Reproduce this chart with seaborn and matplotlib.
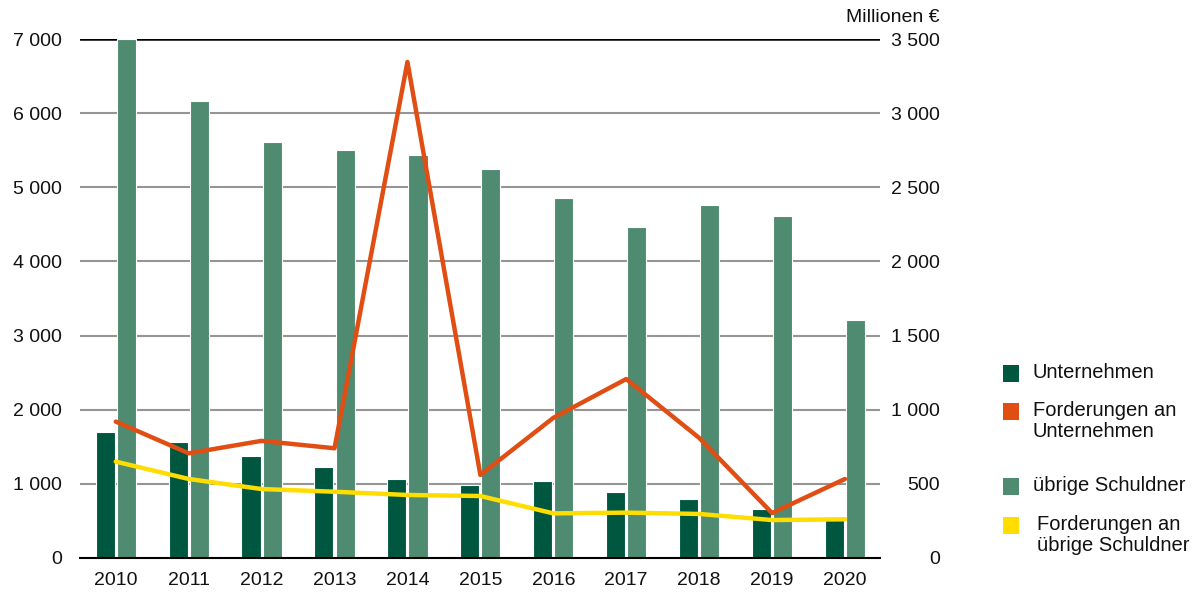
import numpy as np
import pandas as pd
import matplotlib.pyplot as plt
import seaborn as sns
from matplotlib.patches import Rectangle

# data
years = [2010, 2011, 2012, 2013, 2014, 2015, 2016, 2017, 2018, 2019, 2020]
unternehmen = [1700, 1570, 1375, 1230, 1060, 985, 1045, 895, 795, 662, 540]
uebrige = [7000, 6160, 5610, 5500, 5435, 5250, 4855, 4465, 4760, 4615, 3210]
ford_unternehmen = [920, 706, 790, 740, 3345, 560, 945, 1207, 810, 303, 533]
ford_uebrige = [650, 533, 465, 447, 425, 418, 301, 306, 297, 256, 261]

c_dark = "#00573f"
c_light = "#4f8b70"
c_orange = "#e04e14"
c_yellow = "#ffdd00"

bars = pd.DataFrame({"year": years * 2,
                     "value": unternehmen + uebrige,
                     "group": ["Unternehmen"] * len(years) + ["übrige Schuldner"] * len(years)})
lines = pd.DataFrame({"pos": np.arange(len(years)),
                      "ford_u": ford_unternehmen,
                      "ford_s": ford_uebrige})

# plot
sns.set_theme(style="white")
plt.rcParams["font.family"] = ["Liberation Sans", "DejaVu Sans"]

fig = plt.figure(figsize=(11.97, 5.95), dpi=100)
ax = fig.add_axes([80 / 1197, 1 - 558 / 595, 800 / 1197, 519 / 595])

sns.barplot(data=bars, x="year", y="value", hue="group", ax=ax,
            palette=[c_dark, c_light], saturation=1, width=0.58, gap=0.1,
            edgecolor="white", linewidth=0.8, legend=False, zorder=3)

ax.set_xlim(-0.49, 10.48)
ax.set_ylim(0, 7000)
ax.set_yticks(range(0, 7001, 1000))
ax.set_yticklabels([f"{v:,}".replace(",", " ") for v in range(0, 7001, 1000)])
for v in range(1000, 7000, 1000):
    ax.axhline(v, color="#959595", lw=1.5, zorder=1)
ax.axhline(7000, color="black", lw=1.8, zorder=1)
ax.set_xlabel("")
ax.set_ylabel("")
for s in ["left", "right", "top"]:
    ax.spines[s].set_visible(False)
ax.spines["bottom"].set_color("black")
ax.spines["bottom"].set_linewidth(1.5)
ax.spines["bottom"].set_zorder(5)
ax.tick_params(axis="y", length=0, pad=13, labelsize=14, colors="#111111")
ax.tick_params(axis="x", length=0, pad=10, labelsize=14, colors="#111111")

ax2 = ax.twinx()
sns.lineplot(data=lines, x="pos", y="ford_u", ax=ax2, color=c_orange, lw=3.2)
sns.lineplot(data=lines, x="pos", y="ford_s", ax=ax2, color=c_yellow, lw=3.2)
ax2.set_ylim(0, 3500)
ax2.set_yticks(range(0, 3501, 500))
ax2.set_yticklabels([f"{v:,}".replace(",", " ") for v in range(0, 3501, 500)])
for lab in ax2.get_yticklabels():
    lab.set_horizontalalignment("right")
ax2.tick_params(axis="y", length=0, pad=43, labelsize=14, colors="#111111")
ax2.set_ylabel("")
ax2.set_xlabel("")
for s in ax2.spines.values():
    s.set_visible(False)
ax.set_xlim(-0.49, 10.48)

fig.text(940 / 1197, 1 - 18 / 595, "Millionen €", ha="right", va="center",
         fontsize=14, color="#111111")

# legend
entries = [(c_dark, "Unternehmen", 373, 1033),
           (c_orange, "Forderungen an\nUnternehmen", 411, 1033),
           (c_light, "übrige Schuldner", 486, 1033),
           (c_yellow, "Forderungen an\nübrige Schuldner", 525, 1037)]
for col, txt, yc, xt in entries:
    fig.patches.append(Rectangle((1003 / 1197, 1 - (yc + 8.5) / 595), 16 / 1197, 17 / 595,
                                 transform=fig.transFigure, facecolor=col, edgecolor="none"))
    fig.text(xt / 1197, 1 - (yc - 10) / 595, txt, ha="left", va="top",
             fontsize=14.5, color="#111111", linespacing=1.15)

fig.savefig("out.png", dpi=100)
